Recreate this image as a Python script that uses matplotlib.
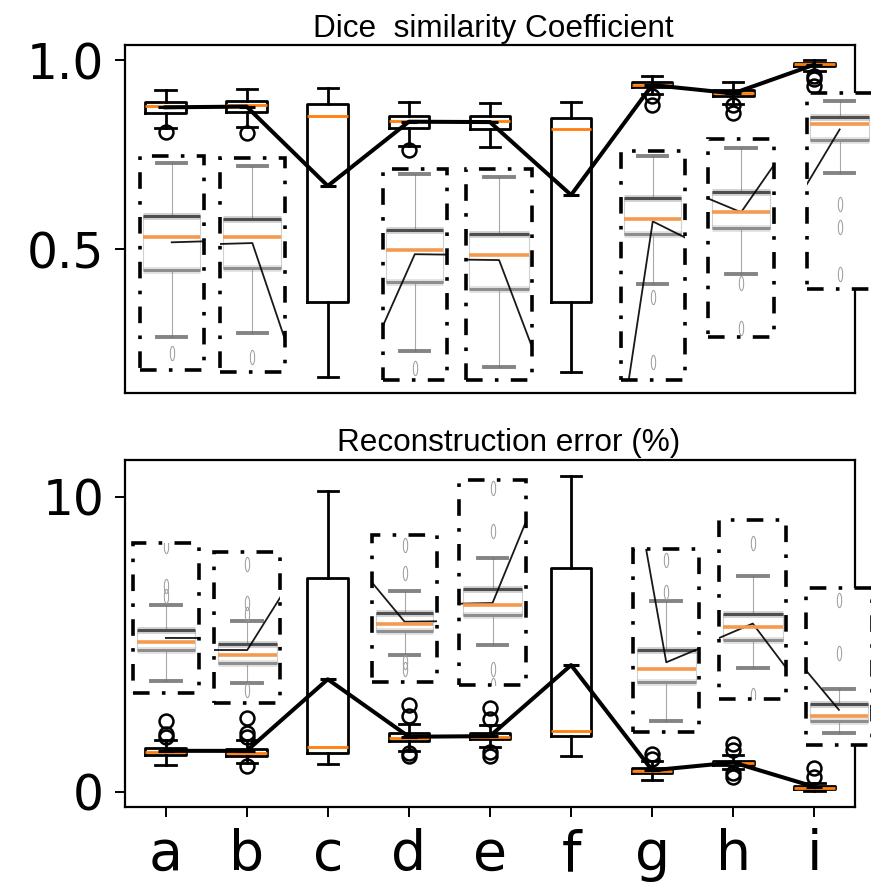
import matplotlib
matplotlib.use("Agg")
import matplotlib.pyplot as plt
from matplotlib.markers import MarkerStyle
from matplotlib.patches import Rectangle
from matplotlib.transforms import Affine2D

# ── data ─────────────────────────────────────
methods = ["a", "b", "c", "d", "e", "f", "g", "h", "i"]

dice_q1     = [0.859, 0.862, 0.361, 0.819, 0.818, 0.359, 0.929, 0.905, 0.984]
dice_median = [0.878, 0.881, 0.853, 0.840, 0.839, 0.817, 0.935, 0.912, 0.990]
dice_q3     = [0.890, 0.892, 0.883, 0.853, 0.852, 0.848, 0.943, 0.921, 0.993]
dice_lo     = [0.820, 0.822, 0.162, 0.773, 0.770, 0.175, 0.910, 0.884, 0.971]
dice_hi     = [0.921, 0.924, 0.925, 0.890, 0.887, 0.890, 0.959, 0.941, 0.999]
dice_mean   = [0.875, 0.877, 0.667, 0.837, 0.836, 0.643, 0.934, 0.912, 0.988]
dice_fliers = [[0.811], [0.807], [], [0.762], [], [],
               [0.905, 0.880], [0.880, 0.860], [0.959, 0.950, 0.932]]

err_q1     = [1.25, 1.22, 1.32, 1.73, 1.78, 1.89, 0.62, 0.905, 0.10]
err_median = [1.34, 1.32, 1.53, 1.83, 1.87, 2.07, 0.69, 0.974, 0.13]
err_q3     = [1.47, 1.46, 7.23, 1.98, 2.00, 7.57, 0.79, 1.04, 0.20]
err_lo     = [0.91, 0.96, 0.93, 1.39, 1.53, 1.21, 0.41, 0.76, 0.03]
err_hi     = [1.75, 1.76, 10.2, 2.30, 2.26, 10.7, 1.05, 1.24, 0.29]
err_mean   = [1.385, 1.383, 3.81, 1.862, 1.883, 4.29, 0.724, 0.991, 0.165]
err_fliers = [[2.40, 1.96, 1.85], [2.49, 1.98, 1.85, 0.87], [],
              [2.95, 2.55, 1.30, 1.20], [2.84, 2.48, 1.33, 1.20], [],
              [1.27, 1.10], [1.62, 1.41, 0.62, 0.50], [0.81, 0.50]]

# ── zoom boxes: method index, [x0, y0, w, h] in axes fraction, y window ──
DICE_ZOOMS = [
    (0, [0.020, 0.066, 0.088, 0.615], (0.801, 0.925)),
    (1, [0.130, 0.060, 0.089, 0.615], (0.798, 0.929)),
    (3, [0.353, 0.037, 0.088, 0.606], (0.754, 0.893)),
    (4, [0.467, 0.037, 0.091, 0.606], (0.762, 0.892)),
    (6, [0.679, 0.037, 0.088, 0.658], (0.873, 0.961)),
    (7, [0.799, 0.162, 0.090, 0.568], (0.856, 0.945)),
    (8, [0.934, 0.298, 0.090, 0.563], (0.926, 1.002)),
]
ERR_ZOOMS = [
    (0, [0.011, 0.329, 0.090, 0.433], (0.78, 2.435)),
    (1, [0.122, 0.299, 0.091, 0.435], (0.70, 2.636)),
    (3, [0.339, 0.361, 0.088, 0.423], (1.014, 3.086)),
    (4, [0.458, 0.352, 0.091, 0.591], (1.20, 2.91)),
    (6, [0.696, 0.217, 0.091, 0.526], (0.352, 1.33)),
    (7, [0.814, 0.310, 0.092, 0.517], (0.597, 1.528)),
    (8, [0.933, 0.179, 0.090, 0.452], (-0.041, 0.88)),
]

POS = list(range(1, len(methods) + 1))
ORANGE = "#ff7f0e"
DASHDOT = (0, (4.6, 3.4, 1.0, 3.4))
ELLIPSE = MarkerStyle("o", fillstyle="none",
                      transform=Affine2D().scale(0.35, 1.15))


def box_stats(q1, med, q3, lo, hi, fliers):
    return [dict(q1=a, med=m, q3=b, whislo=l, whishi=h, fliers=f)
            for a, m, b, l, h, f in zip(q1, med, q3, lo, hi, fliers)]


def draw_main(ax, stats, means):
    ax.bxp(stats, positions=POS, widths=0.5,
           boxprops=dict(color="k", lw=2.0),
           whiskerprops=dict(color="k", lw=2.0),
           capprops=dict(color="k", lw=2.0),
           medianprops=dict(color=ORANGE, lw=2.0),
           flierprops=dict(marker="o", ms=10, mfc="none", mec="k", mew=1.8))
    ax.plot(POS, means, color="k", lw=2.9, marker="_", ms=11, mew=2.2,
            zorder=4)


def draw_zoom(ax, stats, means, idx, rect, window):
    ins = ax.inset_axes(rect)
    ins.set_facecolor("white")
    pos = POS[idx]
    s = stats[idx]
    ins.bxp([s], positions=[pos], widths=0.5,
            boxprops=dict(color="#d0d0d0", lw=0.8),
            whiskerprops=dict(color="#a8a8a8", lw=0.8),
            capprops=dict(color="#6e6e6e", lw=2.8, alpha=0.85),
            medianprops=dict(color="#f39a4f", lw=2.6),
            flierprops=dict(marker=ELLIPSE, ms=9, mfc="none",
                            mec="#9a9a9a", mew=0.7))
    # smeared top/bottom edges of the box
    for y, c in ((s["q3"], "#4f4f4f"), (s["q1"], "#8e8e8e")):
        ins.hlines(y, pos - 0.25, pos + 0.25, colors=c, lw=5, alpha=0.25)
        ins.hlines(y, pos - 0.25, pos + 0.25, colors=c, lw=2.2)
    ins.plot(POS, means, color="k", lw=1.3, alpha=0.9)
    ins.set_xlim(pos - 0.28, pos + 0.28)
    ins.set_ylim(window)
    ins.set_xticks([])
    ins.set_yticks([])
    for sp in ins.spines.values():
        sp.set_visible(False)
    ins.add_patch(Rectangle((0, 0), 1, 1, transform=ins.transAxes,
                            fill=False, ec="k", lw=2.6, ls=DASHDOT,
                            clip_on=False, zorder=10))


def style_axes(ax):
    for sp in ax.spines.values():
        sp.set_linewidth(1.6)
    ax.tick_params(axis="y", labelsize=35, length=7, width=1.4, pad=8)
    ax.set_xlim(0.5, 9.5)


fig = plt.figure(figsize=(8.71, 8.82), dpi=100)
ax_dice = fig.add_axes([0.1435, 0.5544, 0.8381, 0.3946])
ax_err = fig.add_axes([0.1435, 0.0850, 0.8381, 0.3934])

dice_stats = box_stats(dice_q1, dice_median, dice_q3, dice_lo, dice_hi,
                       dice_fliers)
err_stats = box_stats(err_q1, err_median, err_q3, err_lo, err_hi,
                      err_fliers)

draw_main(ax_dice, dice_stats, dice_mean)
draw_main(ax_err, err_stats, err_mean)

for idx, rect, window in DICE_ZOOMS:
    draw_zoom(ax_dice, dice_stats, dice_mean, idx, rect, window)
for idx, rect, window in ERR_ZOOMS:
    draw_zoom(ax_err, err_stats, err_mean, idx, rect, window)

style_axes(ax_dice)
style_axes(ax_err)

ax_dice.set_ylim(0.119, 1.04)
ax_dice.set_yticks([0.5, 1.0])
ax_dice.set_yticklabels(["0.5", "1.0"])
ax_dice.set_xticks([])

ax_err.set_ylim(-0.52, 11.24)
ax_err.set_yticks([0, 10])
ax_err.set_yticklabels(["0", "10"])
ax_err.set_xticks(POS)
ax_err.set_xticklabels(methods)
ax_err.tick_params(axis="x", labelsize=40, length=7, width=1.4, pad=8)

fig.text(493.5 / 871, 1 - 37 / 882, "Dice  similarity Coefficient",
         ha="center", va="baseline", fontsize=22.7, family="Liberation Sans")
fig.text(508.5 / 871, 1 - 451 / 882, "Reconstruction error (%)",
         ha="center", va="baseline", fontsize=22.7, family="Liberation Sans")

fig.savefig("out.png", dpi=100, facecolor="white")
